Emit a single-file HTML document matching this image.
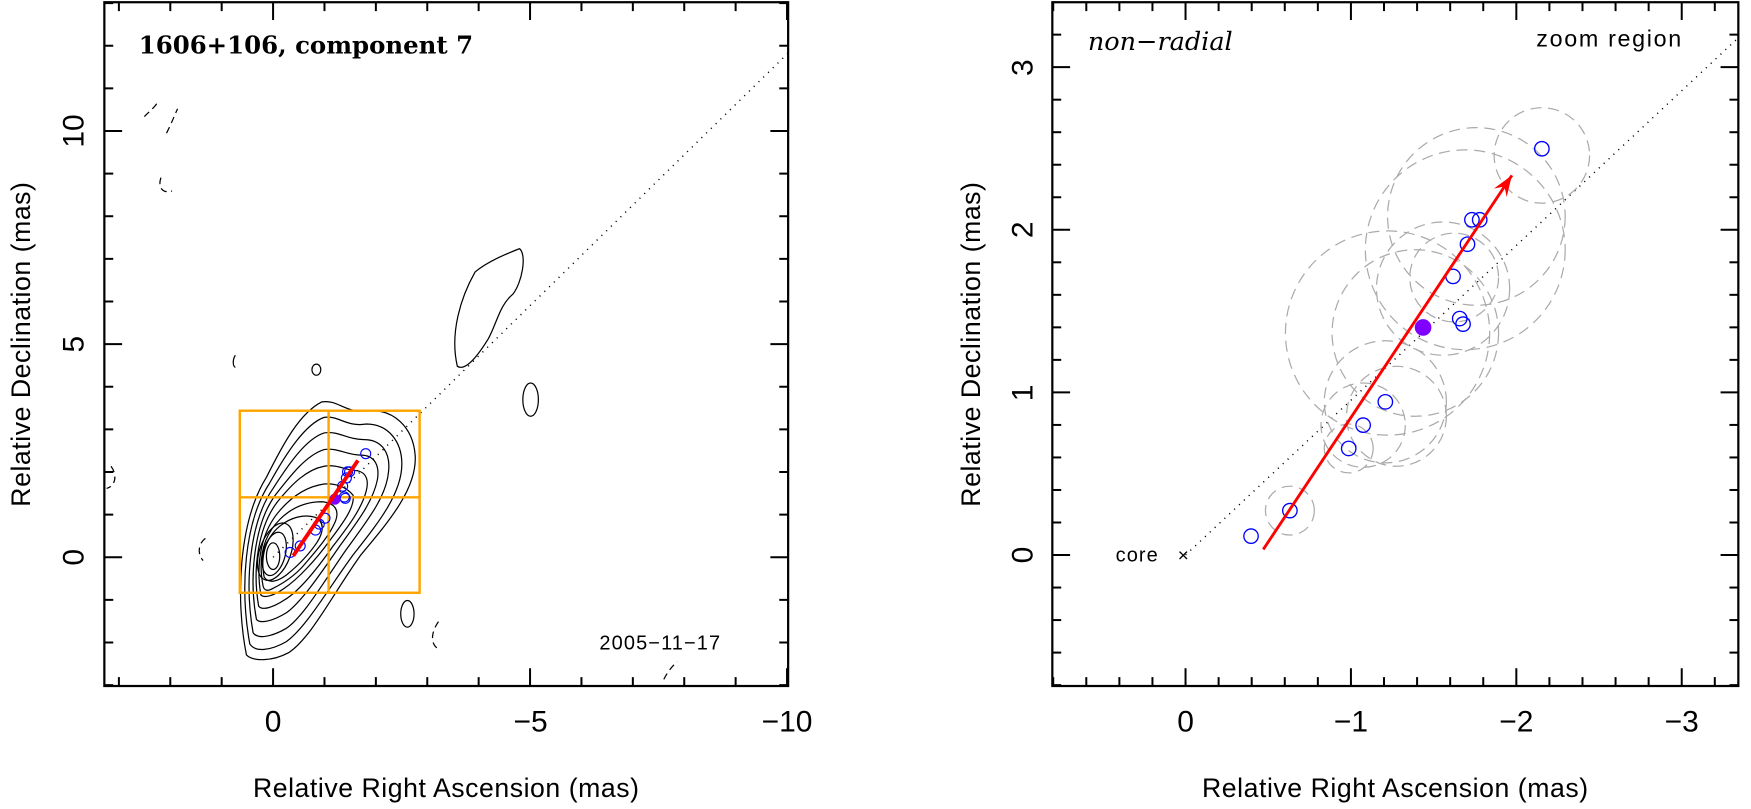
<!DOCTYPE html>
<html><head><meta charset="utf-8"><style>
html,body{margin:0;padding:0;background:#fff;}
svg{display:block}
text{font-family:"Liberation Sans","DejaVu Sans",sans-serif;fill:#000}
</style></head><body>
<svg id="s" width="1751" height="809" viewBox="0 0 1577.4 728.8" xmlns="http://www.w3.org/2000/svg">
<defs>
<clipPath id="cl"><rect x="94" y="2" width="616" height="616"/></clipPath>
<clipPath id="cr"><rect x="948" y="2" width="618" height="616"/></clipPath>
</defs>
<g id="L" clip-path="url(#cl)">
 <line x1="246" y1="502" x2="720" y2="38" stroke="#000" stroke-width="1.3" stroke-dasharray="1 5"/>
 <g fill="none" stroke="#000" stroke-width="1.1">
  <path d="M222,590 C212,540 215,470 240,430 C255,400 270,372 290,362 C305,360 310,372 330,370 C355,368 372,385 374,410 C376,440 350,470 325,500 C300,535 280,575 260,588 C245,596 228,596 222,590Z"/>
  <path d="M225,580 C216,530 220,470 243,435 C258,408 275,382 292,376 C305,374 312,385 330,382 C350,382 362,398 362,418 C362,445 340,472 318,500 C296,530 276,565 258,578 C244,586 230,588 225,580Z"/>
  <path d="M228,570 C220,525 225,470 246,440 C260,418 276,395 292,390 C305,388 313,396 328,396 C344,396 352,408 350,425 C348,448 330,470 312,495 C293,522 274,555 258,566 C244,574 232,576 228,570Z"/>
  <path d="M231,558 C224,520 229,472 248,446 C262,428 276,410 292,405 C304,403 312,410 325,410 C338,410 342,420 340,432 C336,452 322,470 306,492 C290,515 272,542 258,552 C245,560 234,562 231,558Z"/>
  <path d="M233,546 C227,512 233,474 250,452 C263,436 276,423 292,420 C304,418 312,424 322,424 C331,426 332,434 330,442 C326,458 314,474 300,492 C286,512 270,532 257,540 C245,548 236,550 233,546Z"/>
  <path d="M235,536 C230,506 236,478 252,460 C264,446 278,438 292,436 C304,435 313,440 318,446 C320,456 310,470 297,487 C284,505 268,522 256,530 C246,537 238,539 235,536Z"/>
  <path d="M237,528 C232,502 238,482 252,468 C264,456 278,452 290,452 C302,453 306,460 302,470 C296,484 284,497 273,510 C264,520 254,526 246,530 C241,533 238,532 237,528Z"/>
  <path d="M238,520 C234,500 240,484 252,474 C262,466 274,463 284,466 C292,470 292,478 286,488 C278,500 268,510 258,518 C250,524 242,526 238,520Z"/>
  <ellipse cx="248" cy="497" rx="14" ry="27" transform="rotate(20 248 497)"/>
  <ellipse cx="247" cy="499" rx="10" ry="20" transform="rotate(15 247 499)"/>
  <ellipse cx="246" cy="501" rx="6" ry="12"/>
  <path d="M412,330 C405,300 415,268 428,245 C440,235 458,228 468,224 C475,230 470,255 462,265 C450,275 448,290 440,305 C432,318 420,335 412,330Z"/>
  <ellipse cx="478" cy="360" rx="7" ry="15"/>
  <ellipse cx="367" cy="553" rx="6" ry="12"/>
  <ellipse cx="285" cy="333" rx="4" ry="5"/>
  <path d="M212,320 C209,325 210,330 212,331"/>
 </g>
 <g fill="none" stroke="#000" stroke-width="1.1" stroke-dasharray="6 4">
  <path d="M130,105 C135,100 140,96 142,92"/>
  <path d="M150,120 C155,110 158,102 160,98"/>
  <path d="M145,160 C142,168 146,175 155,172"/>
  <path d="M100,420 C106,428 104,438 96,440"/>
  <path d="M185,485 C178,490 178,500 183,505"/>
  <path d="M395,560 C388,570 388,580 394,584"/>
  <path d="M598,612 C602,604 606,600 610,596"/>
 </g>
 <g fill="none" stroke="#FFA500" stroke-width="2.2">
  <rect x="216" y="370" width="162" height="164"/>
  <line x1="216" y1="448" x2="378" y2="448"/>
  <line x1="296" y1="370" x2="296" y2="534"/>
 </g>
 <g id="Lpts"></g>
</g>
<g id="R" clip-path="url(#cr)">
 <line x1="1068" y1="500" x2="1566" y2="34" stroke="#000" stroke-width="1.3" stroke-dasharray="1 5"/>
 <g fill="none" stroke="#aaa" stroke-width="1.1" stroke-dasharray="10 6">
  <circle cx="1162" cy="460" r="22"/>
  <circle cx="1215" cy="404" r="22"/>
  <circle cx="1228" cy="383" r="38"/>
  <circle cx="1248" cy="362" r="55"/>
  <circle cx="1258" cy="375" r="45"/>
  <circle cx="1250" cy="300" r="92"/>
  <circle cx="1275" cy="300" r="75"/>
  <circle cx="1320" cy="225" r="90"/>
  <circle cx="1330" cy="195" r="80"/>
  <circle cx="1300" cy="260" r="60"/>
  <circle cx="1389" cy="140" r="43"/>
  <circle cx="1310" cy="250" r="40"/>
 </g>
 <g id="Rpts"></g>
</g>
<rect x="94" y="2" width="616" height="616" fill="none" stroke="#000" stroke-width="2"/>
<rect x="948" y="2" width="618" height="616" fill="none" stroke="#000" stroke-width="2"/>
<g id="ticks" stroke="#000" stroke-width="1.8"></g>
<g font-size="27" text-anchor="middle">
 <text x="246" y="659">0</text><text x="478" y="659">−5</text><text x="709" y="659">−10</text>
 <text x="1068" y="659">0</text><text x="1217" y="659">−1</text><text x="1366" y="659">−2</text><text x="1515" y="659">−3</text>
 <text transform="translate(75 502) rotate(-90)">0</text>
 <text transform="translate(75 310) rotate(-90)">5</text>
 <text transform="translate(75 118) rotate(-90)">10</text>
 <text transform="translate(930 500) rotate(-90)">0</text>
 <text transform="translate(930 354) rotate(-90)">1</text>
 <text transform="translate(930 207) rotate(-90)">2</text>
 <text transform="translate(930 61) rotate(-90)">3</text>
</g>
<g font-size="24" text-anchor="middle" letter-spacing="0.5">
 <text x="402" y="718">Relative Right Ascension (mas)</text>
 <text x="1257" y="718">Relative Right Ascension (mas)</text>
 <text transform="translate(27 310) rotate(-90)">Relative Declination (mas)</text>
 <text transform="translate(883 310) rotate(-90)">Relative Declination (mas)</text>
</g>
<text x="125" y="48" font-size="22" font-weight="bold" style="font-family:'DejaVu Serif','Liberation Serif',serif">1606+106, component 7</text>
<text x="540" y="585" font-size="18" letter-spacing="1">2005−11−17</text>
<text x="980" y="45" font-size="23" font-style="italic" style="font-family:'DejaVu Serif','Liberation Serif',serif">non−radial</text>
<text x="1384" y="42" font-size="21" letter-spacing="1.5">zoom region</text>
<text x="1005" y="506" font-size="18" letter-spacing="1">core</text>
<text x="1061" y="506" font-size="17">×</text>
</svg>
<script>
var NS="http://www.w3.org/2000/svg";
function el(p,t,a){var e=document.createElementNS(NS,t);for(var k in a)e.setAttribute(k,a[k]);p.appendChild(e);return e;}
var rp=[[1127,483],[1162,460],[1215,404],[1228,383],[1248,362],[1315,287],[1318,292],[1309,249],[1322,220],[1326,198],[1333,198],[1389,134]];
var R=document.getElementById('Rpts'),L=document.getElementById('Lpts');
function toL(x,y){return [246+(x-1068)*0.26, 502-(500-y)*0.255];}
function arrow(g,x1,y1,x2,y2,w,h){
 el(g,'line',{x1:x1,y1:y1,x2:x2,y2:y2,stroke:'#f00','stroke-width':w});
 if(h){var a=Math.atan2(y2-y1,x2-x1),l=h;
 el(g,'path',{d:'M'+x2+','+y2+' L'+(x2-l*Math.cos(a-0.35))+','+(y2-l*Math.sin(a-0.35))+' L'+(x2-l*0.6*Math.cos(a))+','+(y2-l*0.6*Math.sin(a))+' L'+(x2-l*Math.cos(a+0.35))+','+(y2-l*Math.sin(a+0.35))+'Z',fill:'#f00'});}
}
rp.forEach(function(p){el(R,'circle',{cx:p[0],cy:p[1],r:6.5,fill:'none',stroke:'#00f','stroke-width':1.2});});
el(R,'circle',{cx:1282,cy:295,r:7.5,fill:'#7f00ff'});
arrow(R,1138,495,1362,158,2.6,20);
rp.forEach(function(p){var q=toL(p[0],p[1]);el(L,'circle',{cx:q[0],cy:q[1],r:4.5,fill:'none',stroke:'#00f','stroke-width':1});});
var f=toL(1282,295);el(L,'circle',{cx:f[0],cy:f[1],r:5,fill:'#7f00ff'});
var a1=toL(1138,495),a2=toL(1362,158);arrow(L,a1[0],a1[1],a2[0],a2[1],3.5,0);
var T=document.getElementById('ticks');
function tk(x1,y1,x2,y2){el(T,'line',{x1:x1,y1:y1,x2:x2,y2:y2});}
for(var v=3;v>=-10;v--){var x=246-v*46.3;var L2=(v%5==0)?16:8;tk(x,618,x,618-L2);tk(x,2,x,2+L2);}
for(var v=-3;v<=13;v++){var y=502-v*38.4;var L2=(v%5==0)?16:8;tk(94,y,94+L2,y);tk(710,y,710-L2,y);}
for(var i=4;i>=-16;i--){var v=i/5;var x=1068-v*149;var L2=(i%5==0)?16:8;if(x<948||x>1566)continue;tk(x,618,x,618-L2);tk(x,2,x,2+L2);}
for(var i=-4;i<=17;i++){var v=i/5;var y=500-v*146.5;var L2=(i%5==0)?16:8;if(y<2||y>618)continue;tk(948,y,948+L2,y);tk(1566,y,1566-L2,y);}
</script>
</body></html>
